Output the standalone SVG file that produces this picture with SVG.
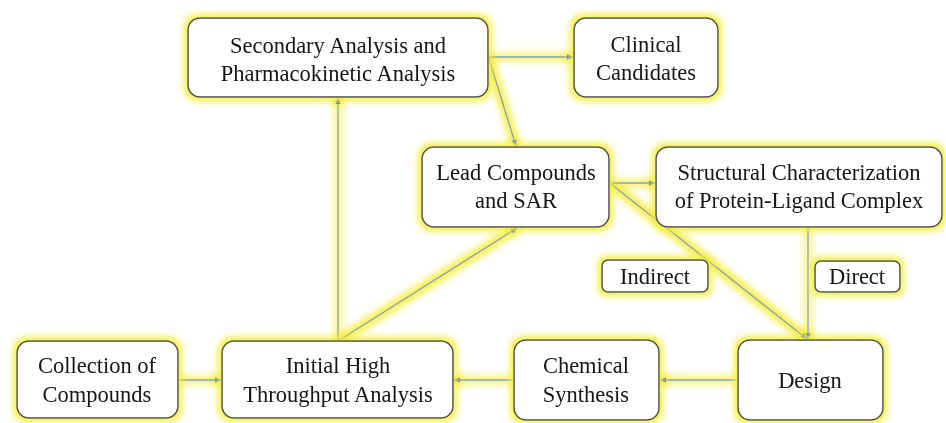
<svg xmlns="http://www.w3.org/2000/svg" width="946" height="423" viewBox="0 0 946 423">
<defs>
<filter id="glow" filterUnits="userSpaceOnUse" x="0" y="0" width="946" height="423">
<feMorphology in="SourceAlpha" operator="dilate" radius="3" result="d"/>
<feGaussianBlur in="d" stdDeviation="3.5" result="b"/>
<feFlood flood-color="#f4ee3a"/>
<feComposite in2="b" operator="in" result="g"/>
<feMerge><feMergeNode in="g"/><feMergeNode in="SourceGraphic"/></feMerge>
</filter>
<marker id="ah" viewBox="0 0 10 10" refX="9" refY="5" markerWidth="7" markerHeight="7" markerUnits="userSpaceOnUse" orient="auto">
<path d="M0,1 L10,5 L0,9 Z" fill="#4f81bd"/>
</marker>
<style>
.box{fill:#fff;stroke:#4a4a44;stroke-width:1.5}
.t{font-family:"Liberation Serif","Times New Roman",serif;font-size:22.5px;fill:#151515;text-anchor:middle}
.c line{stroke:#7f9bb4;stroke-width:1.3;marker-end:url(#ah)}
</style>
</defs>
<rect width="946" height="423" fill="#fff"/>
<g class="c" id="connectors" filter="url(#glow)">
<line x1="488" y1="57" x2="573" y2="57"/>
<line x1="489" y1="59" x2="516" y2="146"/>
<line x1="338" y1="341" x2="338" y2="98"/>
<line x1="338" y1="341" x2="517" y2="228"/>
<line x1="609" y1="183" x2="655" y2="183"/>
<line x1="611" y1="184" x2="807" y2="339"/>
<line x1="808" y1="227" x2="808" y2="339"/>
<line x1="738" y1="380" x2="660" y2="380"/>
<line x1="514" y1="380" x2="454" y2="380"/>
<line x1="178" y1="380" x2="221" y2="380"/>
</g>
<g id="secondary" filter="url(#glow)"><rect class="box" x="188" y="18" width="300" height="79" rx="12"/><text class="t" x="338" y="53">Secondary Analysis and</text><text class="t" x="338" y="81">Pharmacokinetic Analysis</text></g>
<g id="clinical" filter="url(#glow)"><rect class="box" x="574" y="18" width="144" height="79" rx="12"/><text class="t" x="646" y="52">Clinical</text><text class="t" x="646" y="80">Candidates</text></g>
<g id="lead" filter="url(#glow)"><rect class="box" x="422" y="147" width="187" height="80" rx="12"/><text class="t" x="516" y="180">Lead Compounds</text><text class="t" x="516" y="208">and SAR</text></g>
<g id="structural" filter="url(#glow)"><rect class="box" x="656" y="147" width="286" height="80" rx="12"/><text class="t" x="799" y="180">Structural Characterization</text><text class="t" x="799" y="208">of Protein-Ligand Complex</text></g>
<g id="indirect" filter="url(#glow)"><rect class="box" x="602" y="260" width="106" height="32" rx="6"/><text class="t" x="655" y="284">Indirect</text></g>
<g id="direct" filter="url(#glow)"><rect class="box" x="815" y="261" width="85" height="31" rx="6"/><text class="t" x="857" y="284">Direct</text></g>
<g id="collection" filter="url(#glow)"><rect class="box" x="17" y="341" width="161" height="77" rx="12"/><text class="t" x="97" y="373">Collection of</text><text class="t" x="97" y="402">Compounds</text></g>
<g id="initial" filter="url(#glow)"><rect class="box" x="222" y="341" width="231" height="77" rx="12"/><text class="t" x="338" y="373">Initial High</text><text class="t" x="338" y="402">Throughput Analysis</text></g>
<g id="chemical" filter="url(#glow)"><rect class="box" x="514" y="340" width="145" height="80" rx="12"/><text class="t" x="586" y="373">Chemical</text><text class="t" x="586" y="402">Synthesis</text></g>
<g id="design" filter="url(#glow)"><rect class="box" x="738" y="340" width="145" height="80" rx="12"/><text class="t" x="810" y="388">Design</text></g>
</svg>
